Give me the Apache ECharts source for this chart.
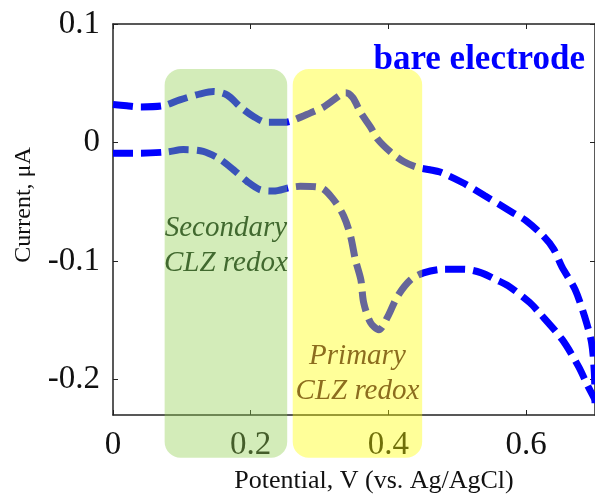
<!DOCTYPE html>
<html>
<head>
<meta charset="utf-8">
<script src="https://cdn.jsdelivr.net/npm/echarts@6/dist/echarts.min.js"></script>
<style>
html,body{margin:0;padding:0;background:#fff;}
#chart{width:595px;height:495px;}
</style>
</head>
<body>
<div id="chart"></div>
<script>
// ---- data ----
const upperPotential = [0.000,0.020,0.040,0.073,0.097,0.127,0.146,0.166,0.185,0.204,0.223,0.248,0.258,0.287,0.306,0.330,0.338,0.348,0.360,0.374,0.384,0.403,0.422,0.442,0.460,0.475,0.508,0.540,0.580,0.600,0.625,0.640,0.652,0.671,0.685,0.695,0.699,0.700];
const upperCurrent   = [0.032,0.031,0.030,0.031,0.036,0.041,0.043,0.040,0.030,0.022,0.017,0.017,0.018,0.025,0.030,0.040,0.042,0.038,0.025,0.013,0.003,-0.008,-0.016,-0.021,-0.023,-0.025,-0.034,-0.045,-0.059,-0.066,-0.079,-0.090,-0.105,-0.124,-0.147,-0.169,-0.194,-0.220];
const lowerPotential = [0.000,0.040,0.078,0.102,0.131,0.155,0.175,0.195,0.214,0.233,0.257,0.272,0.301,0.320,0.335,0.345,0.352,0.360,0.364,0.374,0.386,0.399,0.413,0.432,0.451,0.480,0.510,0.535,0.557,0.574,0.605,0.618,0.652,0.676,0.690,0.700];
const lowerCurrent   = [-0.009,-0.009,-0.008,-0.006,-0.0075,-0.014,-0.023,-0.033,-0.040,-0.041,-0.038,-0.037,-0.038,-0.048,-0.062,-0.079,-0.099,-0.116,-0.135,-0.152,-0.158,-0.147,-0.130,-0.116,-0.110,-0.107,-0.107,-0.110,-0.116,-0.121,-0.135,-0.143,-0.166,-0.189,-0.206,-0.217];
const xTicks = [0, 0.2, 0.4, 0.6];
const yTicks = [-0.2, -0.1, 0, 0.1];
const regionNames = ['Secondary\nCLZ redox', 'Primary\nCLZ redox'];
const regionStart = [0.075, 0.261];
const regionEnd   = [0.253, 0.449];
const regionTop   = [0.062, 0.062];
const regionBottom= [-0.266, -0.266];
const regionLabelY= [-0.087, -0.195];
const seriesLabel = 'bare electrode';
const xName = 'Potential, V (vs. Ag/AgCl)';
const yName = 'Current, μA';

const zip = (a, b) => a.map((v, i) => [v, b[i]]);
const serif = '"Liberation Serif", "Times New Roman", serif';

const chart = echarts.init(document.getElementById('chart'), null, {renderer: 'canvas'});
const axisCommon = {
  axisLine: {show: true, onZero: false, lineStyle: {color: '#222', width: 1.5}},
  splitLine: {show: false}
};
chart.setOption({
  animation: false,
  backgroundColor: '#fff',
  grid: {left: 113, right: 0, top: 24, bottom: 80, containLabel: false, outerBoundsMode: 'none'},
  xAxis: [
    Object.assign({}, axisCommon, {
      type: 'value', min: 0, max: 0.7, position: 'bottom',
      axisTick: {inside: true, length: 5, customValues: xTicks, lineStyle: {color: '#222'}},
      axisLabel: {customValues: xTicks, margin: 14, color: '#111', fontFamily: serif, fontSize: 33}
    }),
    Object.assign({}, axisCommon, {
      type: 'value', min: 0, max: 0.7, position: 'top',
      axisTick: {inside: true, length: 5, customValues: xTicks, lineStyle: {color: '#222'}},
      axisLabel: {show: false}
    })
  ],
  yAxis: [
    Object.assign({}, axisCommon, {
      type: 'value', min: -0.23, max: 0.1, position: 'left',
      axisTick: {inside: true, length: 5, customValues: yTicks, lineStyle: {color: '#222'}},
      axisLabel: {customValues: yTicks, margin: 13, color: '#111', fontFamily: serif, fontSize: 33}
    }),
    Object.assign({}, axisCommon, {
      type: 'value', min: -0.23, max: 0.1, position: 'right',
      axisTick: {inside: true, length: 5, customValues: yTicks, lineStyle: {color: '#222'}},
      axisLabel: {show: false}
    })
  ],
  series: [
    {
      name: seriesLabel + ' (anodic)', type: 'line', data: zip(upperPotential, upperCurrent),
      showSymbol: false, symbol: 'none', smooth: 0.3, clip: true,
      lineStyle: {color: '#0000ff', width: 7, type: [20, 8]}
    },
    {
      name: seriesLabel + ' (cathodic)', type: 'line', data: zip(lowerPotential, lowerCurrent),
      showSymbol: false, symbol: 'none', smooth: 0.3, clip: true,
      lineStyle: {color: '#0000ff', width: 7, type: [20, 8]}
    }
  ]
});

const fills = ['rgba(146,208,80,0.4)', 'rgba(255,255,0,0.4)'];
const textColors = ['#41692f', '#8c6d1e'];
const graphics = [];
regionNames.forEach((name, i) => {
  const p0 = chart.convertToPixel({gridIndex: 0}, [regionStart[i], regionTop[i]]);
  const p1 = chart.convertToPixel({gridIndex: 0}, [regionEnd[i], regionBottom[i]]);
  graphics.push({
    type: 'rect', z: 100,
    shape: {x: p0[0], y: p0[1], width: p1[0] - p0[0], height: p1[1] - p0[1], r: 16},
    style: {fill: fills[i]}
  });
  const c = chart.convertToPixel({gridIndex: 0}, [(regionStart[i] + regionEnd[i]) / 2, regionLabelY[i]]);
  graphics.push({
    type: 'text', z: 101, x: c[0], y: c[1],
    style: {text: name, fill: textColors[i], font: 'italic 29px ' + serif, align: 'center', verticalAlign: 'middle', lineHeight: 35}
  });
});
graphics.push({
  type: 'text', z: 101, x: 585, y: 60,
  style: {text: seriesLabel, fill: '#0000ff', font: 'bold 35px ' + serif, align: 'right', verticalAlign: 'middle'}
});
graphics.push({
  type: 'text', z: 101, x: 374, y: 481,
  style: {text: xName, fill: '#111', font: '26px ' + serif, align: 'center', verticalAlign: 'middle'}
});
graphics.push({
  type: 'text', z: 101, x: 24, y: 205, rotation: Math.PI / 2,
  style: {text: yName, fill: '#111', font: '24px ' + serif, align: 'center', verticalAlign: 'middle'}
});
chart.setOption({graphic: graphics});
</script>
</body>
</html>
